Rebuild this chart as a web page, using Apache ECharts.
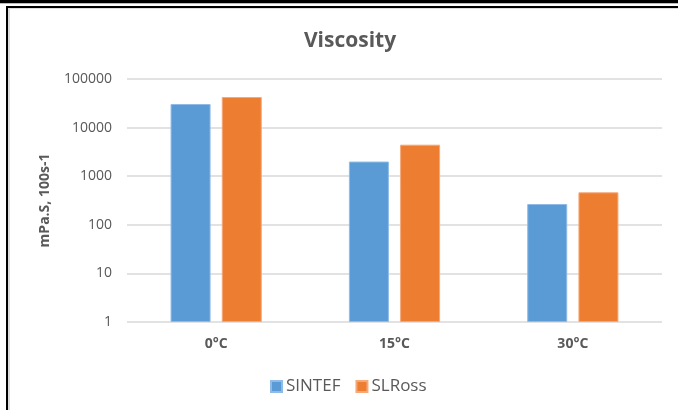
<!DOCTYPE html>
<html>
<head>
<meta charset="utf-8">
<script src="https://cdn.jsdelivr.net/npm/echarts@6/dist/echarts.min.js"></script>
<style>
  html, body { margin: 0; padding: 0; background: #fff; }
  #main { width: 678px; height: 410px; }
</style>
</head>
<body>
<div id="main"></div>
<script>
// 数据
var categories = ["0°C", "15°C", "30°C"];
var sintef = [30600, 2000, 268];
var slross = [42600, 4450, 466];
var yTicks = [1, 10, 100, 1000, 10000, 100000];

var myChart = echarts.init(document.getElementById("main"));

var option = {
  backgroundColor: "#fff",
  color: ["#5b9bd5", "#ed7d31"],
  textStyle: { fontFamily: "Open Sans" },
  // 外框
  graphic: [
    { type: "rect", shape: { x: 0, y: 0, width: 678, height: 3 }, style: { fill: "#000" } },
    { type: "rect", shape: { x: 0, y: 3, width: 678, height: 1 }, style: { fill: "#bbb" } },
    { type: "rect", shape: { x: 6, y: 6, width: 672, height: 2 }, style: { fill: "#000" } },
    { type: "rect", shape: { x: 6, y: 6, width: 2, height: 404 }, style: { fill: "#000" } },
    { type: "rect", shape: { x: 8, y: 8, width: 2, height: 402 }, style: { fill: "#ddd" } },
    { type: "rect", shape: { x: 8, y: 8, width: 670, height: 1 }, style: { fill: "#ddd" } }
  ],
  title: {
    text: "Viscosity",
    left: 345,
    textAlign: "center",
    top: 26,
    textStyle: {
      color: "#595959",
      fontSize: 21,
      fontWeight: "bold",
      fontFamily: "Open Sans"
    }
  },
  legend: {
    left: 265,
    top: 373,
    itemWidth: 11,
    itemHeight: 11,
    itemGap: 15,
    icon: "rect",
    textStyle: {
      color: "#595959",
      fontSize: 17,
      padding: [0, 0, 0, -1]
    }
  },
  grid: {
    left: 127,
    right: 16,
    top: 79,
    height: 243
  },
  xAxis: {
    type: "category",
    data: categories,
    axisTick: { show: false },
    axisLine: { show: false },
    axisLabel: {
      color: "#595959",
      fontSize: 14,
      fontWeight: "bold",
      margin: 15
    }
  },
  yAxis: {
    type: "log",
    logBase: 10,
    min: yTicks[0],
    max: yTicks[yTicks.length - 1],
    name: "mPa.S, 100s-1",
    nameLocation: "middle",
    nameRotate: 90,
    nameGap: 75,
    nameTextStyle: {
      color: "#595959",
      fontSize: 14,
      fontWeight: "bold"
    },
    axisLine: { show: false },
    axisTick: { show: false },
    axisLabel: {
      color: "#595959",
      fontSize: 14,
      margin: 15,
      formatter: function (v) {
        return String(Math.round(v));
      }
    },
    splitLine: {
      lineStyle: { color: "#d9d9d9", width: 1.5 }
    }
  },
  series: [
    {
      name: "SINTEF",
      type: "bar",
      barWidth: 40,
      barGap: "28%",
      data: sintef,
      itemStyle: { borderColor: "#8fbbe6", borderWidth: 1 }
    },
    {
      name: "SLRoss",
      type: "bar",
      barWidth: 40,
      data: slross,
      itemStyle: { borderColor: "#f5a878", borderWidth: 1 }
    }
  ]
};

myChart.setOption(option);
window.addEventListener("resize", function () {
  myChart.resize();
});
</script>
</body>
</html>
